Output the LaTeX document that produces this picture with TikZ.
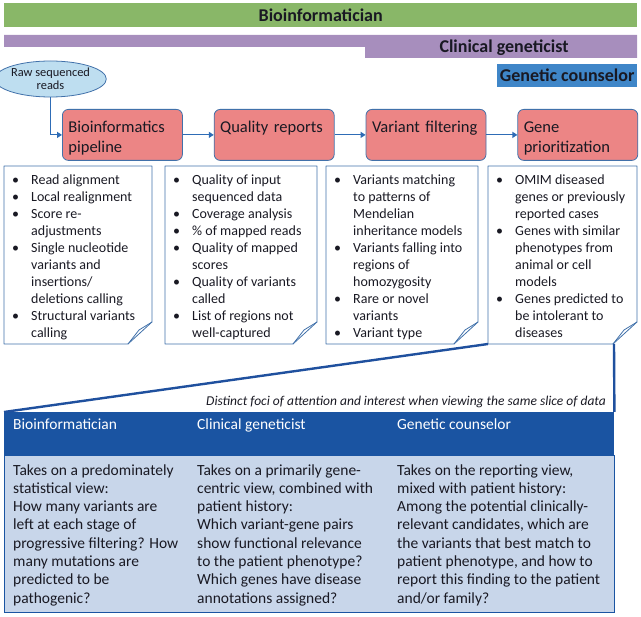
\documentclass[tikz,border=0pt]{standalone}
\usepackage{fontspec}
\setmainfont{Carlito}
\usepackage{array}
\usetikzlibrary{shapes,positioning,arrows.meta,calc}

\definecolor{bargreen}{RGB}{137,183,104}
\definecolor{barpurple}{RGB}{167,142,189}
\definecolor{barblue}{RGB}{63,134,200}
\definecolor{stepred}{RGB}{236,133,133}
\definecolor{edgeblue}{RGB}{65,113,170}
\definecolor{linkblue}{RGB}{46,108,182}
\definecolor{zoomblue}{RGB}{31,80,158}
\definecolor{headblue}{RGB}{26,84,162}
\definecolor{bodyblue}{RGB}{200,214,234}
\definecolor{readsfill}{RGB}{190,222,240}
\definecolor{inkdark}{RGB}{25,25,35}

\newcommand\notebox[4]{%
  \draw[notefr] (#1,#2) -- (#3,#2) -- (#3,#4-22) -- (#3-24,#4) -- (#1,#4) -- cycle;
  \draw[notefr] (#3,#4-22) -- (#3-13,#4-14) -- (#3-24,#4);}
\newcommand\pts[1]{\begin{tabular}{@{}p{19pt}@{}l@{}}#1\end{tabular}}
\newcommand\bu{\textbullet &}

\begin{document}
\begin{tikzpicture}[x=1pt,y=-1pt,text=inkdark,
    bar/.style={anchor=north west, inner sep=0pt, font=\fontsize{18}{20}\selectfont\bfseries},
    stepbox/.style={rectangle, rounded corners=6pt, draw=edgeblue, fill=stepred, line width=0.8pt,
        text width=108pt, align=left, inner xsep=6pt, inner ysep=6.5pt,
        text height=16.5pt, text depth=21.5pt, font=\fontsize{16.5}{20}\selectfont},
    link/.style={draw=linkblue, line width=1.2pt, -{Triangle[length=5pt,width=6pt]}},
    note/.style={anchor=north west, inner sep=0pt, font=\fontsize{14}{17}\selectfont},
    notefr/.style={draw=edgeblue, line width=0.8pt, line join=round},
    zoomln/.style={draw=zoomblue, line width=2.4pt},
    cell/.style={anchor=north west, inner sep=0pt, font=\fontsize{15.5}{18.3}\selectfont}]

    \useasboundingbox (0,0) rectangle (641,617);

    \node [bar, fill=bargreen, minimum width=633pt, minimum height=24pt] (bio) at (4,3) {Bioinformatician};
    \fill [barpurple] (4,35) -- (637,35) -- (637,58) -- (365,58) -- (365,47) -- (4,47) -- cycle;
    \node [font=\fontsize{18}{20}\selectfont\bfseries, inner sep=0pt] (clin) at (504,48) {Clinical geneticist};
    \node [bar, fill=barblue, minimum width=140pt, minimum height=23pt] (gc) at (497,64) {Genetic counselor};

    \node [ellipse, draw=edgeblue, fill=readsfill, line width=0.8pt, minimum width=93pt, minimum height=36pt,
        inner sep=0pt, align=center, font=\fontsize{12.4}{12.8}\selectfont] (rr) at (50.5,79) {Raw sequenced\\reads};

    \node [stepbox, anchor=north west] (b1) at (62,109) {Bioinformatics\\pipeline};
    \node [stepbox, right=31pt of b1] (b2) {Quality reports};
    \node [stepbox, right=31pt of b2] (b3) {\mbox{Variant filtering}};
    \node [stepbox, right=31pt of b3] (b4) {Gene\\prioritization};

    \draw [link] (rr.south) |- (b1.west);
    \draw [link] (b1.east) -- (b2.west);
    \draw [link] (b2.east) -- (b3.west);
    \draw [link] (b3.east) -- (b4.west);

    \notebox{4}{166}{152}{344}
    \notebox{165}{166}{317}{344}
    \notebox{326}{166}{478}{344}
    \notebox{488}{166}{637}{344}

    \node [note] (n1) at (12,172) {\pts{\bu Read alignment\\ \bu Local realignment\\ \bu Score re-\\ & adjustments\\
        \bu Single nucleotide\\ & variants and\\ & insertions/\\ & deletions calling\\
        \bu Structural variants\\ & calling}};
    \node [note] (n2) at (173,172) {\pts{\bu Quality of input\\ & sequenced data\\ \bu Coverage analysis\\
        \bu \% of mapped reads\\ \bu Quality of mapped\\ & scores\\ \bu Quality of variants\\ & called\\
        \bu List of regions not\\ & well-captured}};
    \node [note] (n3) at (334,172) {\pts{\bu Variants matching\\ & to patterns of\\ & Mendelian\\ & inheritance models\\
        \bu Variants falling into\\ & regions of\\ & homozygosity\\ \bu Rare or novel\\ & variants\\
        \bu Variant type}};
    \node [note] (n4) at (496,172) {\pts{\bu OMIM diseased\\ & genes or previously\\ & reported cases\\
        \bu Genes with similar\\ & phenotypes from\\ & animal or cell\\ & models\\
        \bu Genes predicted to\\ & be intolerant to\\ & diseases}};

    \coordinate (z1) at (488,344);
    \coordinate (z2) at (614,344);

    \node [fill=headblue, minimum width=610pt, minimum height=43pt, anchor=north west, inner sep=0pt] (hd) at (4,412) {};
    \node [fill=bodyblue, draw=headblue, line width=0.8pt, minimum width=610pt, minimum height=157pt,
        anchor=north west, inner sep=0pt] (bd) at (4,455) {};

    \draw [zoomln] (z1) -- (hd.north west);
    \draw [zoomln] (z2) -- (hd.north east);

    \node [anchor=base east, inner sep=0pt, font=\fontsize{13.5}{16}\selectfont\itshape] (foci) at (606,406)
        {Distinct foci of attention and interest when viewing the same slice of data};

    \node [cell, anchor=base west, text=white] (h1) at (13,430) {Bioinformatician};
    \node [cell, anchor=base west, text=white] (h2) at (197,430) {Clinical geneticist};
    \node [cell, anchor=base west, text=white] (h3) at (397,430) {Genetic counselor};

    \node [cell] (t1) at (13,462) {\begin{tabular}{@{}l@{}}Takes on a predominately\\ statistical view:\\
        How many variants are\\ left at each stage of\\ progressive filtering? How\\ many mutations are\\
        predicted to be\\ pathogenic?\end{tabular}};
    \node [cell] (t2) at (197,462) {\begin{tabular}{@{}l@{}}Takes on a primarily gene-\\ centric view, combined with\\
        patient history:\\ Which variant-gene pairs\\ show functional relevance\\ to the patient phenotype?\\
        Which genes have disease\\ annotations assigned?\end{tabular}};
    \node [cell] (t3) at (397,462) {\begin{tabular}{@{}l@{}}Takes on the reporting view,\\ mixed with patient history:\\
        Among the potential clinically-\\ relevant candidates, which are\\ the variants that best match to\\
        patient phenotype, and how to\\ report this finding to the patient\\ and/or family?\end{tabular}};
\end{tikzpicture}
\end{document}
